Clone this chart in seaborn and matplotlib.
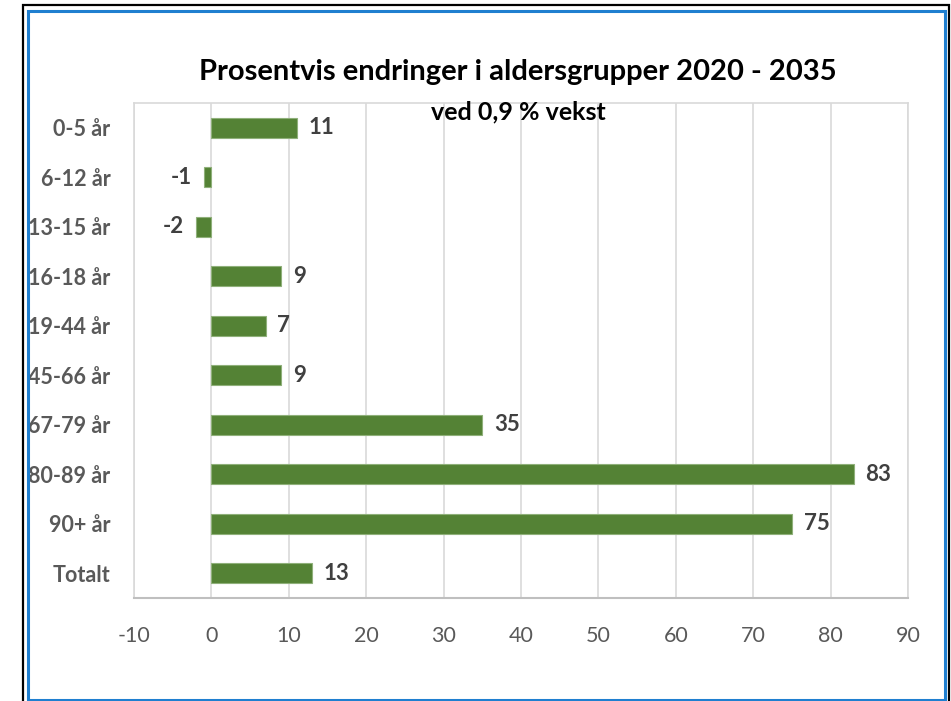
import matplotlib.pyplot as plt
import matplotlib.patches as mpatches
import pandas as pd
import seaborn as sns

sns.set_theme(style="white")
plt.rcParams['font.family'] = ['Lato', 'DejaVu Sans']

# data
groups = ['0-5 år', '6-12 år', '13-15 år', '16-18 år', '19-44 år',
          '45-66 år', '67-79 år', '80-89 år', '90+ år', 'Totalt']
change = [11, -1, -2, 9, 7, 9, 35, 83, 75, 13]
xticks = [-10, 0, 10, 20, 30, 40, 50, 60, 70, 80, 90]

bar_color = '#548235'
grid_color = '#d9d9d9'
label_color = '#595959'
value_color = '#404040'

df = pd.DataFrame({'group': groups, 'change': change})

fig = plt.figure(figsize=(9.51, 7.01), dpi=100)
ax = fig.add_axes([134 / 951, 103 / 701, 774 / 951, 495 / 701])

sns.barplot(data=df, x='change', y='group', color=bar_color, width=0.4,
            edgecolor='#8fb07a', linewidth=0.8, saturation=1, ax=ax, zorder=3)

ax.set_xlim(-10, 90)
ax.set_ylim(9.5, -0.5)
ax.set_xticks(xticks)
ax.set_xticklabels([str(t) for t in xticks])
ax.set_xlabel('')
ax.set_ylabel('')

# gridlines and plot area border
for t in xticks:
    ax.axvline(t, color=grid_color, linewidth=1.2, zorder=1)
for side in ['top', 'right', 'left']:
    ax.spines[side].set_color(grid_color)
    ax.spines[side].set_linewidth(1.2)
ax.spines['bottom'].set_color('#bfbfbf')
ax.spines['bottom'].set_linewidth(1.5)

ax.tick_params(axis='x', length=0, pad=20, labelsize=15.5, labelcolor=label_color)
ax.tick_params(axis='y', length=0, pad=17, labelsize=15.5, labelcolor=label_color)
for lbl in ax.get_yticklabels():
    lbl.set_fontweight('bold')

# value labels
for i, v in enumerate(change):
    if v >= 0:
        ax.text(v + 1.5, i, str(v), ha='left', va='center', fontsize=16,
                fontweight='bold', color=value_color, zorder=4)
    else:
        ax.text(v - 1.5, i, str(v), ha='right', va='center', fontsize=16,
                fontweight='bold', color=value_color, zorder=4)

# titles
fig.text(518 / 951, 1 - 72 / 701, 'Prosentvis endringer i aldersgrupper 2020 - 2035',
         ha='center', va='center', fontsize=21, fontweight='bold', color='#000000')
fig.text(518 / 951, 1 - 112 / 701, 'ved 0,9 % vekst',
         ha='center', va='center', fontsize=18, fontweight='bold', color='#000000')

# frame around picture
fig.patches.append(mpatches.Rectangle((23 / 951, -0.01), (949 - 23) / 951, 1 - 5 / 701 + 0.01,
                                      transform=fig.transFigure, fill=False,
                                      edgecolor='#000000', linewidth=1.6))
fig.patches.append(mpatches.Rectangle((28 / 951, 1 / 701), (945 - 28) / 951, (690 - 1) / 701,
                                      transform=fig.transFigure, fill=False,
                                      edgecolor='#1f7fd0', linewidth=2.2))

plt.savefig('out.png', dpi=100)
plt.close()
